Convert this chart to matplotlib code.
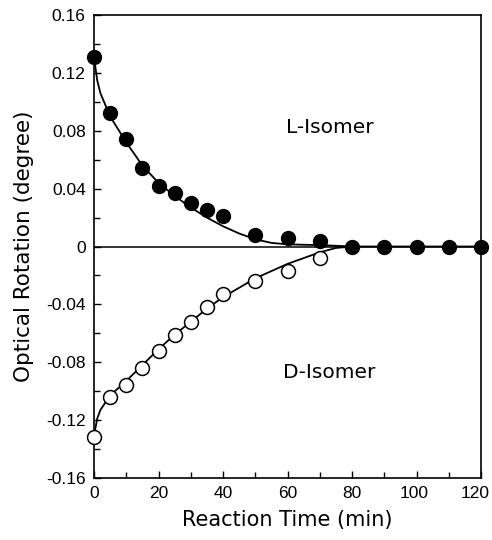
import matplotlib
matplotlib.use("Agg")
import matplotlib.pyplot as plt
import matplotlib.transforms as mtransforms
from matplotlib.ticker import MultipleLocator

plt.rcParams['font.family'] = ['Liberation Sans', 'DejaVu Sans']

# Data
time_pts = [0, 5, 10, 15, 20, 25, 30, 35, 40, 50, 60, 70, 80, 90, 100, 110, 120]
l_isomer = [0.131, 0.092, 0.074, 0.054, 0.042, 0.037, 0.030, 0.025, 0.021, 0.008, 0.006, 0.0035,
            0.0, 0.0, 0.0, 0.0, 0.0]
d_time = [0, 5, 10, 15, 20, 25, 30, 35, 40, 50, 60, 70]
d_isomer = [-0.132, -0.104, -0.096, -0.084, -0.072, -0.061, -0.052, -0.042, -0.033, -0.024, -0.017, -0.0076]

l_fit_t = [0, 1, 2, 5, 10, 15, 20, 25, 30, 35, 40, 45, 50, 55, 60, 65, 70, 80, 120]
l_fit_y = [0.131, 0.115, 0.106, 0.090, 0.072, 0.056, 0.044, 0.035, 0.027, 0.020, 0.014, 0.009,
           0.005, 0.0025, 0.0015, 0.0012, 0.001, 0.0, 0.0]
d_fit_t = [0, 1, 2, 5, 10, 15, 20, 25, 30, 35, 40, 50, 60, 70, 75, 80]
d_fit_y = [-0.131, -0.119, -0.113, -0.103, -0.093, -0.082, -0.071, -0.061, -0.052, -0.043,
           -0.035, -0.022, -0.012, -0.004, -0.001, 0.0]

x_ticks = [0, 20, 40, 60, 80, 100, 120]
y_ticks = [-0.16, -0.12, -0.08, -0.04, 0, 0.04, 0.08, 0.12, 0.16]
y_tick_labels = ["-0.16", "-0.12", "-0.08", "-0.04", "0", "0.04", "0.08", "0.12", "0.16"]

fig = plt.figure(figsize=(4.92, 5.40), dpi=100)
ax = fig.add_axes([0.191, 0.115, 0.787, 0.857])

ax.axhline(0, color='black', lw=1.1, zorder=1)
ax.plot(l_fit_t, l_fit_y, color='black', lw=1.3, zorder=2)
ax.plot(d_fit_t, d_fit_y, color='black', lw=1.3, zorder=2)
ax.plot(time_pts, l_isomer, 'o', color='black', markersize=10, zorder=3, clip_on=False)
ax.plot(d_time, d_isomer, 'o', markerfacecolor='white', markeredgecolor='black',
        markeredgewidth=1.1, markersize=10, zorder=3, clip_on=False)

ax.set_xlim(0, 120)
ax.set_ylim(-0.16, 0.16)
ax.set_xticks(x_ticks)
ax.set_yticks(y_ticks)
ax.set_yticklabels(y_tick_labels)
ax.xaxis.set_minor_locator(MultipleLocator(10))
ax.yaxis.set_minor_locator(MultipleLocator(0.02))
ax.tick_params(which='both', direction='in', top=False, right=False, labelsize=12.5, width=1)
ax.tick_params(which='major', length=5, pad=6)
ax.tick_params(which='minor', length=4)
for s in ax.spines.values():
    s.set_linewidth(1.2)

# nudge the last x tick labels left so they stay inside the figure
xlabels = ax.get_xticklabels()
for lbl, dx in zip(xlabels[-2:], [-3, -6]):
    lbl.set_transform(lbl.get_transform() + mtransforms.ScaledTranslation(dx / 100, 0, fig.dpi_scale_trans))

ax.set_xlabel("Reaction Time (min)", fontsize=15, labelpad=6, family='DejaVu Sans')
ax.set_ylabel("Optical Rotation (degree)", fontsize=15.5, labelpad=9, family='DejaVu Sans')

ax.text(73, 0.082, "L-Isomer", fontsize=14.5, ha='center', va='center', family='DejaVu Sans')
ax.text(73, -0.087, "D-Isomer", fontsize=14.5, ha='center', va='center', family='DejaVu Sans')

fig.savefig("out.png", dpi=100)
